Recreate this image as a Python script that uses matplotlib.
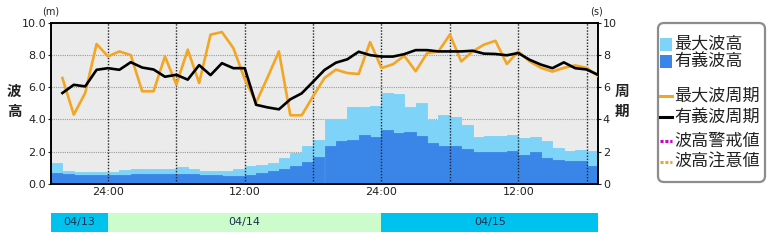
import matplotlib
matplotlib.use('Agg')
import matplotlib.pyplot as plt
import numpy as np
from matplotlib.patches import FancyBboxPatch, Rectangle
from matplotlib.lines import Line2D

# ---------------- data (hourly, start 04/13 19:00) ----------------
max_height = [1.28, 0.83, 0.77, 0.75, 0.74, 0.76, 0.86, 0.95, 0.95, 0.95,
              0.93, 1.07, 0.95, 0.83, 0.79, 0.79, 0.90, 1.12, 1.18, 1.28,
              1.60, 1.95, 2.38, 2.70, 4.00, 4.00, 4.75, 4.75, 4.85, 5.62,
              5.55, 4.80, 5.00, 3.95, 4.30, 4.15, 3.65, 2.92, 2.97, 2.97,
              3.03, 2.85, 2.90, 2.66, 2.22, 2.05, 2.10, 2.05]
sig_height = [0.66, 0.60, 0.55, 0.55, 0.55, 0.55, 0.57, 0.62, 0.62, 0.62,
              0.62, 0.60, 0.60, 0.55, 0.55, 0.50, 0.47, 0.58, 0.66, 0.82,
              0.95, 1.12, 1.35, 1.69, 2.35, 2.65, 2.75, 3.05, 2.90, 3.35,
              3.15, 3.20, 2.95, 2.55, 2.33, 2.33, 2.18, 1.98, 2.00, 2.00,
              2.02, 1.80, 1.97, 1.60, 1.50, 1.40, 1.40, 1.13]
max_period = [6.57, 4.30, 5.64, 8.68, 7.91, 8.22, 7.99, 5.75, 5.75, 7.91,
              6.16, 8.33, 6.26, 9.26, 9.42, 8.43, 6.50, 5.05, 6.60, 8.22,
              4.26, 4.26, 5.44, 6.57, 7.09, 6.88, 6.82, 8.80, 7.19, 7.42,
              7.95, 6.99, 8.11, 8.22, 9.26, 7.60, 8.22, 8.64, 8.88, 7.44,
              8.22, 7.60, 7.20, 6.97, 7.20, 7.35, 7.20, 6.70]
sig_period = [5.64, 6.15, 6.05, 7.08, 7.18, 7.08, 7.55, 7.22, 7.10, 6.65,
              6.77, 6.47, 7.37, 6.75, 7.49, 7.18, 7.18, 4.91, 4.75, 4.63,
              5.25, 5.62, 6.34, 7.07, 7.52, 7.73, 8.20, 7.99, 7.90, 7.90,
              8.05, 8.30, 8.30, 8.22, 8.22, 8.22, 8.26, 8.08, 8.06, 7.98,
              8.12, 7.70, 7.40, 7.18, 7.54, 7.18, 7.10, 6.77]

n_hours = 48
xtick_hours = [5, 17, 29, 41]
xtick_labels = ['24:00', '12:00', '24:00', '12:00']
vline_hours = [5, 11, 17, 23, 29, 35, 41, 47]
left_ticks = [0, 2, 4, 6, 8, 10]
left_labels = ['0.0', '2.0', '4.0', '6.0', '8.0', '10.0']
right_labels = ['0', '2', '4', '6', '8', '10']
date_labels = ['04/13', '04/14', '04/15']
date_start = [0, 5, 29]
date_end = [5, 29, 48]
date_colors = ['#00c2ee', '#ccfccc', '#00c2ee']
legend_labels = ['最大波高', '有義波高', '最大波周期', '有義波周期', '波高警戒値', '波高注意値']

c_max = '#7dd3f8'
c_sig = '#3a86e8'
c_maxp = '#f2a623'
c_sigp = '#000000'

plt.rcParams['font.family'] = ['DejaVu Sans']
JP = ['Noto Sans CJK JP', 'DejaVu Sans']

W, H = 778, 242
fig = plt.figure(figsize=(W / 100, H / 100), dpi=100)


def fr(x0, y0, x1, y1):
    return [x0 / W, 1 - y1 / H, (x1 - x0) / W, (y1 - y0) / H]


ax = fig.add_axes(fr(51, 22.7, 598, 184))
ax.set_facecolor('#ebebeb')
bx = np.arange(n_hours)
ax.bar(bx, max_height, width=1.0, align='edge', color=c_max, edgecolor=c_max,
       linewidth=0.6, zorder=2)
ax.bar(bx, sig_height, width=1.0, align='edge', color=c_sig, edgecolor=c_sig,
       linewidth=0.6, zorder=2.1)
for y in left_ticks[1:-1]:
    ax.axhline(y, color='#9a9a9a', ls=(0, (1, 1)), lw=0.8, zorder=1)
for t in vline_hours:
    ax.axvline(t, color='#222222', ls=(0, (1, 1.2)), lw=1.0, zorder=3)
ax.set_xlim(0, n_hours)
ax.set_ylim(0, 10)
ax.set_yticks(left_ticks)
ax.set_yticklabels(left_labels)
ax.set_xticks(xtick_hours)
ax.set_xticklabels(xtick_labels)
ax.tick_params(axis='x', length=0, pad=2, labelsize=8, colors='#222222')
ax.tick_params(axis='y', length=2.5, width=0.8, pad=1, labelsize=8, colors='#222222')
for s in ax.spines.values():
    s.set_linewidth(1.2)
    s.set_color('black')

ax2 = ax.twinx()
pt = np.arange(1, n_hours + 1)
ax2.plot(pt, max_period, color=c_maxp, lw=1.9, zorder=4)
ax2.plot(pt, sig_period, color=c_sigp, lw=1.9, zorder=5)
ax2.set_ylim(0, 10)
ax2.set_xlim(0, n_hours)
ax2.set_yticks(left_ticks)
ax2.set_yticklabels(right_labels)
ax2.tick_params(axis='y', length=2.5, width=0.8, pad=1, labelsize=8, colors='#222222')
for s in ax2.spines.values():
    s.set_linewidth(1.2)
    s.set_color('black')

# date bar
axd = fig.add_axes(fr(51, 213, 598, 232))
axd.set_xlim(0, n_hours)
axd.set_ylim(0, 1)
axd.axis('off')
for lab, s0, s1, c in zip(date_labels, date_start, date_end, date_colors):
    axd.axvspan(s0, s1, color=c, lw=0)
    axd.text((s0 + s1) / 2, 0.5, lab, ha='center', va='center', fontsize=8, color='#1c3250')

# overlay for labels and legend
ov = fig.add_axes([0, 0, 1, 1])
ov.set_xlim(0, W)
ov.set_ylim(H, 0)
ov.axis('off')
ov.text(51, 11, '(m)', ha='center', va='center', fontsize=7, color='#222222')
ov.text(597, 11, '(s)', ha='center', va='center', fontsize=7, color='#222222')
ov.text(14, 91, '波', ha='center', va='center', fontsize=10.5, fontweight='bold', family=JP, color='#222222')
ov.text(14, 111, '高', ha='center', va='center', fontsize=10.5, fontweight='bold', family=JP, color='#222222')
ov.text(622, 91, '周', ha='center', va='center', fontsize=10.5, fontweight='bold', family=JP, color='#222222')
ov.text(622, 111, '期', ha='center', va='center', fontsize=10.5, fontweight='bold', family=JP, color='#222222')

box = FancyBboxPatch((658, 23), 107, 159, boxstyle='round,pad=0,rounding_size=6',
                     facecolor='white', edgecolor='#8c8c8c', lw=1.6)
ov.add_patch(box)
rows = [44, 61, 96, 117, 141, 162]
ov.add_patch(Rectangle((660, rows[0] - 6.5), 12, 13, color=c_max, lw=0))
ov.add_patch(Rectangle((660, rows[1] - 6.5), 12, 13, color=c_sig, lw=0))
ov.add_line(Line2D([660, 672], [rows[2], rows[2]], color=c_maxp, lw=2.2))
ov.add_line(Line2D([660, 672], [rows[3], rows[3]], color=c_sigp, lw=2.2))
ov.add_line(Line2D([660, 672], [rows[4], rows[4]], color='#c800c8', lw=2.2, ls=(0, (1, 0.6))))
ov.add_line(Line2D([660, 672], [rows[5], rows[5]], color=c_maxp, lw=2.2, ls=(0, (1, 0.6))))
for lab, y in zip(legend_labels, rows):
    ov.text(674, y, lab, ha='left', va='center', fontsize=12.3, family=JP, color='#222222')

fig.savefig('out.png', dpi=100)
